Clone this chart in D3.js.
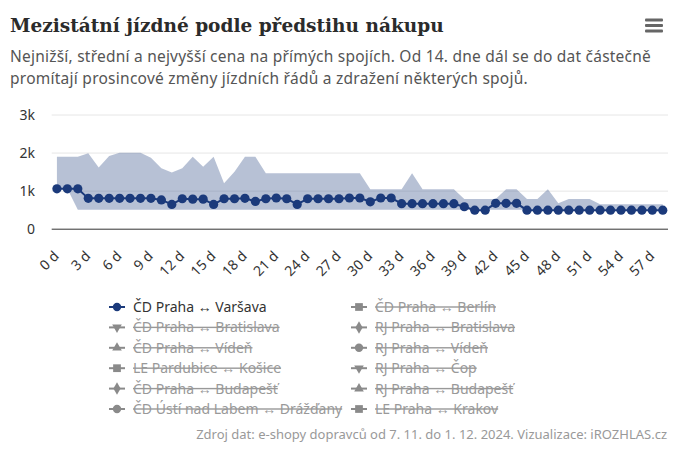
<!DOCTYPE html>
<html><head><meta charset="utf-8">
<script src="https://cdn.jsdelivr.net/npm/d3@7"></script>
<style>body{margin:0;background:#fff}svg{display:block}</style>
</head><body>
<script>
// ---- data ----
const categories = ["0 d","1 d","2 d","3 d","4 d","5 d","6 d","7 d","8 d","9 d","10 d","11 d","12 d","13 d","14 d","15 d","16 d","17 d","18 d","19 d","20 d","21 d","22 d","23 d","24 d","25 d","26 d","27 d","28 d","29 d","30 d","31 d","32 d","33 d","34 d","35 d","36 d","37 d","38 d","39 d","40 d","41 d","42 d","43 d","44 d","45 d","46 d","47 d","48 d","49 d","50 d","51 d","52 d","53 d","54 d","55 d","56 d","57 d","58 d"];
const medianPrice = [1060,1060,1060,810,810,810,810,810,810,810,770,650,800,790,790,650,800,800,810,730,800,820,800,650,800,800,800,800,820,820,720,820,820,670,670,670,670,670,670,590,500,500,680,680,680,500,500,500,500,500,500,500,500,500,500,500,500,500,500];
const minPrice = [1060,1060,510,510,510,510,510,510,510,510,510,510,510,510,510,510,510,510,510,510,510,510,510,510,510,510,510,510,510,510,510,510,510,510,510,510,510,510,510,510,510,510,510,510,510,510,510,510,510,510,510,510,510,510,510,510,510,510,510];
const maxPrice = [1900,1900,1900,1995,1620,1920,2010,2010,2010,1880,1600,1490,1600,1900,1640,1900,1210,1510,1900,1900,1470,1470,1470,1470,1470,1470,1470,1470,1470,1470,1050,1050,1050,1050,1470,1050,1050,1050,1050,795,795,795,795,1050,1050,795,795,1050,680,795,795,795,656,656,656,656,656,656,656];
const yTicks = [0,1000,2000,3000];
const yTickLabels = ["0","1k","2k","3k"];
const xTickLabels = ["0 d","3 d","6 d","9 d","12 d","15 d","18 d","21 d","24 d","27 d","30 d","33 d","36 d","39 d","42 d","45 d","48 d","51 d","54 d","57 d"];
const legendNames = ["ČD Praha ↔ Varšava","ČD Praha ↔ Berlín","ČD Praha ↔ Bratislava","RJ Praha ↔ Bratislava","ČD Praha ↔ Vídeň","RJ Praha ↔ Vídeň","LE Pardubice ↔ Košice","RJ Praha ↔ Čop","ČD Praha ↔ Budapešť","RJ Praha ↔ Budapešť","ČD Ústí nad Labem ↔ Drážďany","LE Praha ↔ Krakov"];
const legendSymbols = ["circle","square","triangle-down","diamond","triangle","circle","square","triangle-down","diamond","triangle","circle","square"];
const legendVisible = [true,false,false,false,false,false,false,false,false,false,false,false];
const titleText = "Mezistátní jízdné podle předstihu nákupu";
const subtitleLines = ["Nejnižší, střední a nejvyšší cena na přímých spojích. Od 14. dne dál se do dat částečně","promítají prosincové změny jízdních řádů a zdražení některých spojů."];
const creditText = "Zdroj dat: e-shopy dopravců od 7. 11. do 1. 12. 2024. Vizualizace: iROZHLAS.cz";

// ---- drawing ----
const W = 680, H = 452;
const navy = "#1b3a7b";
const sans = "'Noto Sans', 'Open Sans', sans-serif";
const svg = d3.select("body").append("svg").attr("width", W).attr("height", H);

function fit(sel, w) {
  const l = sel.node().getComputedTextLength();
  const fs = parseFloat(sel.attr("font-size"));
  sel.attr("font-size", (fs * w / l).toFixed(2));
}

// title
const title = svg.append("text").attr("x", 10).attr("y", 32)
  .attr("font-family", "'DejaVu Serif', serif").attr("font-weight", "bold")
  .attr("font-size", 20).attr("fill", "#2b2b2b").text(titleText);
fit(title, 434);

// menu icon
[20, 25.5, 31].forEach(y => svg.append("rect").attr("x", 645).attr("y", y - 1.5)
  .attr("width", 18).attr("height", 3).attr("rx", 1).attr("fill", "#666"));

// subtitle
const subW = [641, 518];
const subY = [61.5, 83.5];
subtitleLines.forEach((t, i) => {
  const s = svg.append("text").attr("x", 10).attr("y", subY[i])
    .attr("font-family", sans).attr("font-size", 15.5).attr("fill", "#555").text(t);
  const l = s.node().getComputedTextLength();
  s.attr("letter-spacing", ((subW[i] - l) / t.length).toFixed(3));
});

// scales
const x = d3.scalePoint().domain(categories).range([51.7, 668]).padding(0.5);
const y = d3.scaleLinear().domain([0, 3000]).range([229.2, 115]);

// grid
const g = svg.append("g");
g.selectAll("line.grid").data(yTicks.slice(1)).enter().append("line")
  .attr("x1", 51.7).attr("x2", 668).attr("y1", d => y(d)).attr("y2", d => y(d))
  .attr("stroke", "#e6e6e6").attr("stroke-width", 1);

// y labels
g.selectAll("text.yl").data(yTicks).enter().append("text")
  .attr("x", 35).attr("y", d => y(d) + 5).attr("text-anchor", "end")
  .attr("font-family", sans).attr("font-size", 14).attr("fill", "#333")
  .text((d, i) => yTickLabels[i]);

// area range
const rows = categories.map((c, i) => ({c, lo: minPrice[i], hi: maxPrice[i], mid: medianPrice[i]}));
const area = d3.area().x(d => x(d.c)).y0(d => y(d.lo)).y1(d => y(d.hi));
g.append("path").datum(rows).attr("d", area).attr("fill", "#5f75a2").attr("fill-opacity", 0.45);

// x axis line
g.append("line").attr("x1", 51.7).attr("x2", 668).attr("y1", y(0)).attr("y2", y(0))
  .attr("stroke", "#333").attr("stroke-width", 1);

// x labels
g.selectAll("text.xl").data(xTickLabels).enter().append("text")
  .attr("text-anchor", "end")
  .attr("transform", d => `translate(${x(d) + 3},${257}) rotate(-45)`)
  .attr("font-family", sans).attr("font-size", 14).attr("fill", "#333").text(d => d);

// line + markers
const line = d3.line().x(d => x(d.c)).y(d => y(d.mid));
g.append("path").datum(rows).attr("d", line).attr("fill", "none")
  .attr("stroke", navy).attr("stroke-width", 2);
g.selectAll("circle.pt").data(rows).enter().append("circle")
  .attr("cx", d => x(d.c)).attr("cy", d => y(d.mid)).attr("r", 4.6).attr("fill", navy);

// legend
const symMap = {circle: d3.symbolCircle, square: d3.symbolSquare, diamond: d3.symbolDiamond,
  triangle: d3.symbolTriangle, "triangle-down": d3.symbolTriangle};
const lg = svg.append("g");
legendNames.forEach((name, i) => {
  const col = i % 2, row = Math.floor(i / 2);
  const lx = col === 0 ? 109 : 351;
  const ly = 307 + row * 20.4;
  const vis = legendVisible[i];
  const c = vis ? navy : "#8a8a8a";
  lg.append("line").attr("x1", lx).attr("x2", lx + 16).attr("y1", ly).attr("y2", ly)
    .attr("stroke", c).attr("stroke-width", 2);
  const s = legendSymbols[i];
  const size = s === "circle" ? 55 : s === "square" ? 60 : s === "diamond" ? 45 : 40;
  lg.append("path").attr("d", d3.symbol().type(symMap[s]).size(size)())
    .attr("transform", `translate(${lx + 8},${ly}) rotate(${s === "triangle-down" ? 180 : 0})`)
    .attr("fill", c);
  lg.append("text").attr("x", lx + 24).attr("y", ly + 5)
    .attr("font-family", sans).attr("font-size", 14)
    .attr("fill", vis ? "#333" : "#999")
    .attr("text-decoration", vis ? null : "line-through").text(name);
});

// credits
svg.append("text").attr("x", 667).attr("y", 439).attr("text-anchor", "end")
  .attr("font-family", sans).attr("font-size", 13).attr("fill", "#999").text(creditText);
</script>
</body></html>
